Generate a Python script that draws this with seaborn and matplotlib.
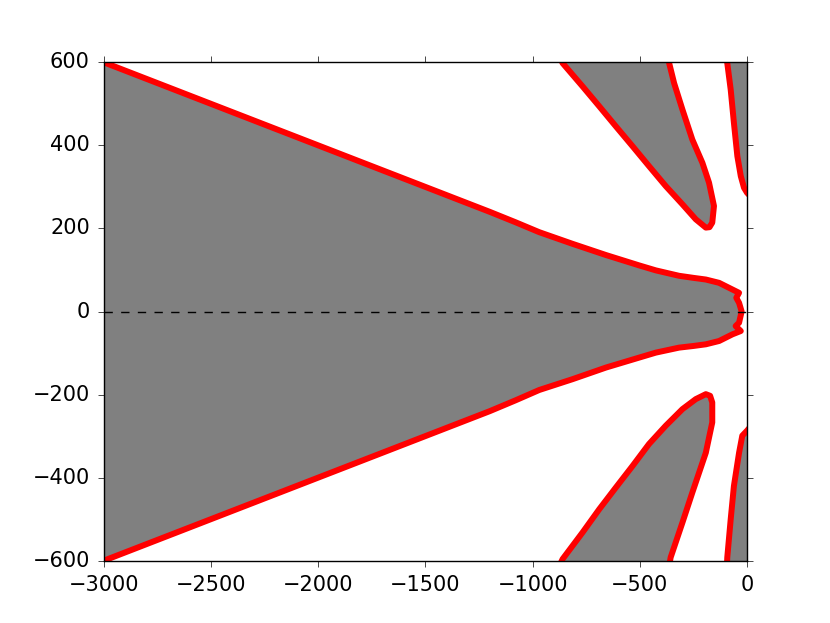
import numpy as np
import matplotlib
matplotlib.use('Agg')
import matplotlib.pyplot as plt
import seaborn as sns

# style matplotlib classique (avant 2.0)
plt.style.use('classic')

# frontiere de la region principale (moitie haute puis moitie basse)
main_up_x = [-3100, -3000, -2500, -2000, -1500, -1200, -1080, -969, -814, -658, -503,
             -425, -317, -250, -192, -130, -68, -37, -50, -37, -25]
main_up_y = [620, 600, 500, 400, 300, 240, 215, 191, 163, 136, 111,
             99, 86, 81, 77, 69, 53, 45, 33, 21, 0]
main_lo_x = [-25, -37, -53, -29, -68, -130, -192, -250, -317, -425, -503, -658,
             -814, -969, -1080, -1200, -1500, -2000, -2500, -3000, -3100]
main_lo_y = [0, -27, -35, -47, -55, -71, -79, -83, -87, -99, -111, -135,
             -163, -189, -214, -240, -300, -400, -500, -600, -620]

# lobe du milieu, en haut
lobe_up_x = [-900, -860, -767, -689, -612, -534, -457, -379, -301, -239, -192,
             -175, -162, -154, -177, -208, -255, -301, -340, -363, -378]
lobe_up_y = [640, 598, 542, 494, 446, 398, 350, 302, 258, 222, 202,
             203, 214, 254, 310, 358, 414, 486, 550, 598, 640]

# lobe du milieu, en bas
lobe_lo_x = [-900, -860, -767, -689, -612, -534, -457, -379, -301, -239, -192,
             -172, -162, -162, -192, -255, -301, -356, -372]
lobe_lo_y = [-640, -596, -532, -476, -424, -372, -319, -275, -235, -211, -199,
             -203, -219, -267, -340, -436, -508, -592, -640]

# lobes contre l'axe x = 0
edge_up_x = [-96, -92, -76, -61, -45, -29, -14, 0, 20]
edge_up_y = [640, 598, 534, 454, 374, 326, 298, 286, 275]
edge_lo_x = [20, 0, -22, -37, -61, -76, -92, -96]
edge_lo_y = [-275, -287, -299, -340, -420, -500, -592, -640]

xticks = [-3000, -2500, -2000, -1500, -1000, -500, 0]
yticks = [-600, -400, -200, 0, 200, 400, 600]

fig, ax = plt.subplots(figsize=(8.3, 6.23))

grey = '#808080'
# remplissages
ax.fill(main_up_x + main_lo_x, main_up_y + main_lo_y, color=grey, lw=0, zorder=1)
ax.fill(lobe_up_x, lobe_up_y, color=grey, lw=0, zorder=1)
ax.fill(lobe_lo_x, lobe_lo_y, color=grey, lw=0, zorder=1)
ax.fill(edge_up_x + [20], edge_up_y + [640], color=grey, lw=0, zorder=1)
ax.fill(edge_lo_x + [20], edge_lo_y + [-640], color=grey, lw=0, zorder=1)

# contours rouges
for xs, ys in [(main_up_x + main_lo_x, main_up_y + main_lo_y),
               (lobe_up_x, lobe_up_y), (lobe_lo_x, lobe_lo_y),
               (edge_up_x, edge_up_y), (edge_lo_x, edge_lo_y)]:
    sns.lineplot(x=np.array(xs), y=np.array(ys), sort=False, estimator=None,
                 color='red', lw=4.3, ax=ax, zorder=2)

# ligne pointillee en y = 0
ax.plot([-3000, 0], [0, 0], 'k--', lw=1, zorder=3)

ax.set_xlim(-3000, 0)
ax.set_ylim(-600, 600)
ax.set_xticks(xticks)
ax.set_yticks(yticks)
ax.set_xlabel('')
ax.set_ylabel('')
ax.tick_params(direction='out', length=4, labelsize=15, pad=6,
               top=True, right=True)

fig.savefig('out.png', dpi=100, facecolor='white')
